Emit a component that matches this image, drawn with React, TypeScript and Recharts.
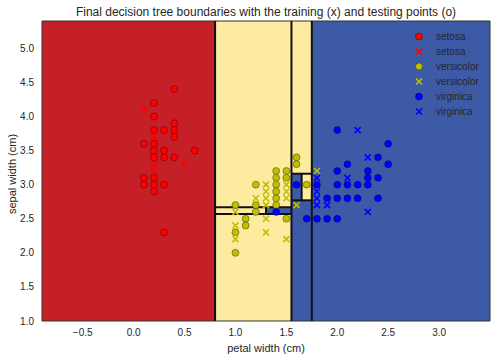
import React from 'react';
import { ScatterChart, Scatter, XAxis, YAxis, ReferenceArea, ReferenceLine, Label } from 'recharts';

type P = [number, number];

// [petal width, sepal width]
const setosaTest: P[] = [
  [0.4, 4.4], [0.2, 4.2], [0.2, 4.0], [0.4, 3.9], [0.2, 3.8], [0.3, 3.8], [0.4, 3.8], [0.4, 3.7],
  [0.1, 3.6], [0.2, 3.6], [0.2, 3.5], [0.3, 3.5], [0.6, 3.5], [0.2, 3.4], [0.3, 3.4], [0.4, 3.4],
  [0.1, 3.1], [0.2, 3.1], [0.1, 3.0], [0.2, 3.0], [0.3, 3.0], [0.2, 2.9], [0.3, 2.3],
];
const setosaTrain: P[] = [[0.1, 4.1], [0.2, 3.7], [0.5, 3.3], [0.2, 3.3], [0.2, 3.2]];

const versicolorTest: P[] = [
  [1.6, 3.4], [1.6, 3.3], [1.4, 3.2], [1.5, 3.2], [1.4, 3.1], [1.5, 3.1], [1.4, 3.0], [1.4, 2.9],
  [1.4, 2.8], [1.4, 2.7], [1.2, 3.0], [1.2, 2.7], [1.2, 2.6], [1.0, 2.7], [1.1, 2.5], [1.1, 2.4],
  [1.0, 2.3], [1.0, 2.0], [1.5, 2.5], [1.7, 3.0],
];
const versicolorTrain: P[] = [
  [1.8, 3.2], [1.6, 2.7], [1.3, 3.0], [1.3, 2.9], [1.3, 2.8], [1.3, 2.7], [1.3, 2.5], [1.3, 2.3],
  [1.2, 2.8], [1.0, 2.6], [1.0, 2.4], [1.0, 2.2], [1.5, 3.0], [1.5, 2.9], [1.5, 2.8], [1.5, 2.2],
];

const virginicaTest: P[] = [
  [1.4, 2.6], [1.6, 3.0], [1.8, 3.0], [1.7, 2.5], [1.8, 2.5], [1.9, 2.5], [2.0, 2.5], [2.0, 3.8],
  [2.5, 3.6], [2.4, 3.4], [2.1, 3.3], [2.5, 3.3], [2.0, 3.2], [2.3, 3.2], [2.3, 3.1], [2.4, 3.1],
  [2.0, 3.0], [2.1, 3.0], [2.2, 3.0], [2.3, 3.0], [1.9, 2.8], [2.0, 2.8], [2.1, 2.8], [2.2, 2.8], [2.4, 2.8],
];
const virginicaTrain: P[] = [
  [2.2, 3.8], [2.3, 3.4], [2.1, 3.1], [1.8, 3.1], [1.8, 2.9], [1.8, 2.8], [1.8, 2.7], [1.9, 2.7], [2.3, 2.6],
];

const xTicks = [-0.5, 0, 0.5, 1, 1.5, 2, 2.5, 3];
const yTicks = [1, 1.5, 2, 2.5, 3, 3.5, 4, 4.5, 5];
const xDomain: [number, number] = [-0.9, 3.5];
const yDomain: [number, number] = [1.0, 5.4];

// decision regions: [x1, x2, y1, y2, class index]
const regions: [number, number, number, number, number][] = [
  [-0.9, 0.8, 1.0, 5.4, 0],
  [0.8, 1.55, 1.0, 5.4, 1],
  [1.3, 1.55, 2.57, 2.67, 2],
  [1.55, 1.75, 3.16, 5.4, 1],
  [1.55, 1.65, 2.77, 3.16, 2],
  [1.65, 1.75, 2.77, 3.16, 1],
  [1.55, 1.75, 1.0, 2.77, 2],
  [1.75, 3.5, 1.0, 5.4, 2],
];

// boundary segments: [x1, y1, x2, y2]
const boundaries: [number, number, number, number][] = [
  [0.8, 1.0, 0.8, 5.4],
  [1.55, 1.0, 1.55, 5.4],
  [1.75, 1.0, 1.75, 5.4],
  [0.8, 2.67, 1.55, 2.67],
  [0.8, 2.57, 1.55, 2.57],
  [1.3, 2.57, 1.3, 2.67],
  [1.55, 3.16, 1.75, 3.16],
  [1.55, 2.77, 1.75, 2.77],
  [1.65, 2.77, 1.65, 3.16],
];

const regionColors = ['#c52028', '#fdeba0', '#3d5aa7'];
const pointColors = ['#ff0000', '#bfbf00', '#0000ff'];

const FONT = '"Liberation Sans", Arial, sans-serif';
const TEXT = '#262626';

const toObj = (arr: P[]) => arr.map(([pw, sw]) => ({ pw, sw }));

const circleShape = (color: string) => (p: any) => (
  <circle cx={p.cx} cy={p.cy} r={3.5} fill={color} stroke="rgba(0,0,0,0.35)" strokeWidth={1} />
);
const crossShape = (color: string) => (p: any) => (
  <g stroke={color} strokeWidth={1.6}>
    <line x1={p.cx - 3} y1={p.cy - 3} x2={p.cx + 3} y2={p.cy + 3} />
    <line x1={p.cx - 3} y1={p.cy + 3} x2={p.cx + 3} y2={p.cy - 3} />
  </g>
);

const series = [
  { name: 'setosa', data: setosaTest, cls: 0, marker: 'o' },
  { name: 'setosa', data: setosaTrain, cls: 0, marker: 'x' },
  { name: 'versicolor', data: versicolorTest, cls: 1, marker: 'o' },
  { name: 'versicolor', data: versicolorTrain, cls: 1, marker: 'x' },
  { name: 'virginica', data: virginicaTest, cls: 2, marker: 'o' },
  { name: 'virginica', data: virginicaTrain, cls: 2, marker: 'x' },
];

const fmt = (v: number) => (v < 0 ? '\u2212' : '') + Math.abs(v).toFixed(1);

const LegendBox = () => (
  <div style={{ position: 'absolute', left: 412, top: 29, fontFamily: FONT, fontSize: 10, color: TEXT }}>
    {series.map((s, i) => {
      const c = pointColors[s.cls];
      return (
        <div key={i} style={{ height: 15, display: 'flex', alignItems: 'center' }}>
          <svg width={14} height={15} style={{ display: 'block' }}>
            {s.marker === 'o' ? (
              <circle cx={7} cy={7.5} r={3.5} fill={c} stroke="rgba(0,0,0,0.35)" />
            ) : (
              <g stroke={c} strokeWidth={1.6}>
                <line x1={4} y1={4.5} x2={10} y2={10.5} />
                <line x1={4} y1={10.5} x2={10} y2={4.5} />
              </g>
            )}
          </svg>
          <span style={{ marginLeft: 10 }}>{s.name}</span>
        </div>
      );
    })}
  </div>
);

export default function App() {
  return (
    <div style={{ position: 'absolute', left: 0, top: 0, width: 495, height: 359, background: '#fff' }}>
      <div
        style={{
          position: 'absolute', left: 42, width: 448, top: 4, textAlign: 'center',
          fontFamily: FONT, fontSize: 12, lineHeight: '16px', color: TEXT,
        }}
      >
        Final decision tree boundaries with the training (x) and testing points (o)
      </div>
      <ScatterChart width={495} height={359} margin={{ top: 21, right: 5, bottom: 0, left: 0 }}>
        <XAxis
          type="number" dataKey="pw" domain={xDomain} ticks={xTicks} allowDataOverflow
          tickFormatter={fmt} tickLine={false} axisLine={false} height={38}
          tick={{ fill: TEXT, fontSize: 10, fontFamily: FONT }} interval={0}
        >
          <Label value="petal width (cm)" position="insideBottom" offset={7}
            style={{ fill: TEXT, fontSize: 11, fontFamily: FONT }} />
        </XAxis>
        <YAxis
          type="number" dataKey="sw" domain={yDomain} ticks={yTicks} allowDataOverflow
          tickFormatter={fmt} tickLine={false} axisLine={false} width={42}
          tick={{ fill: TEXT, fontSize: 10, fontFamily: FONT }} interval={0}
        >
          <Label
            content={() => (
              <text x={12} y={174} transform="rotate(-90 12 174)" textAnchor="middle"
                dominantBaseline="central" style={{ fill: TEXT, fontSize: 11, fontFamily: FONT }}>
                sepal width (cm)
              </text>
            )}
          />
        </YAxis>
        {regions.map(([x1, x2, y1, y2, c], i) => (
          <ReferenceArea key={'r' + i} x1={x1} x2={x2} y1={y1} y2={y2}
            fill={regionColors[c]} fillOpacity={1} stroke="none" ifOverflow="visible" />
        ))}
        {boundaries.map(([x1, y1, x2, y2], i) => (
          <ReferenceLine key={'b' + i} segment={[{ x: x1, y: y1 }, { x: x2, y: y2 }]}
            stroke="#111" strokeWidth={2} ifOverflow="visible" />
        ))}
        <ReferenceArea x1={xDomain[0]} x2={xDomain[1]} y1={yDomain[0]} y2={yDomain[1]}
          fill="none" stroke="#333" strokeWidth={1} ifOverflow="visible" />
        {series.map((s, i) => (
          <Scatter key={'s' + i} name={s.name} data={toObj(s.data)} isAnimationActive={false}
            shape={s.marker === 'o' ? circleShape(pointColors[s.cls]) : crossShape(pointColors[s.cls])} />
        ))}
      </ScatterChart>
      <LegendBox />
    </div>
  );
}
